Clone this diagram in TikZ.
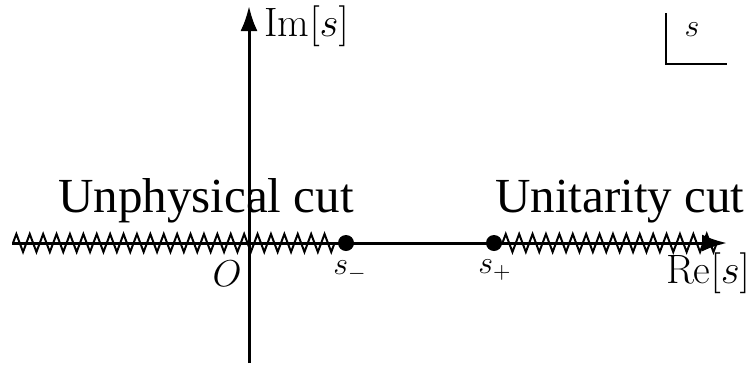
\RequirePackage{fix-cm}
\documentclass[tikz,border=0pt]{standalone}
\usepackage{fontspec}
\newfontfamily\cutfont{Liberation Serif}
\usetikzlibrary{arrows.meta,decorations.pathmorphing}

\begin{document}
\begin{tikzpicture}[x=0.5pt,y=-0.5pt,
axis/.style={line width=1.5pt,-{Latex[length=12.5pt,width=8.5pt]}},
cut/.style={line width=1pt,decorate,decoration={zigzag,segment length=6.7pt,amplitude=4.5pt}},
pole/.style={circle,fill,inner sep=0pt,minimum size=8pt},
axlab/.style={font=\fontsize{20.5}{24}\selectfont},lab/.style={font=\fontsize{18.7}{22}\selectfont},
smalllab/.style={font=\fontsize{16}{20}\selectfont},
big/.style={font=\cutfont\fontsize{24.5}{30}\selectfont}]
\useasboundingbox (0,0) rectangle (754,365);
% axes
\coordinate (xl) at (12,243);\coordinate (xr) at (727,243);
\coordinate (yb) at (249,363);\coordinate (yt) at (249,6);
\draw[axis] (xl) -- (xr);
\draw[axis] (yb) -- (yt);
\node[axlab,anchor=west,inner sep=0pt] (im) at (264,26) {$\mathrm{Im}[s]$};
\node[axlab] (re) at (708,273) {$\mathrm{Re}[s]$};
\node[lab] (o) at (227,274) {$O$};
% branch points
\node[pole] (sm) at (346,243) {};\node[pole] (sp) at (494,243) {};
\node[smalllab] (sml) at (350,271) {$s_-$};\node[smalllab] (spl) at (495,270) {$s_+$};
% cuts
\coordinate (cl) at (13,243);\coordinate (cr) at (722,243);
\draw[cut] (cl) -- (sm.west);
\draw[cut] (sp.east) -- (cr);
\node[big,anchor=base] (uc) at (206,212) {Unphysical cut};
\node[big,anchor=base] (tc) at (620,212) {Unitarity cut};
% s-plane marker
\coordinate (ct) at (666,13);\coordinate (cc) at (666,64);\coordinate (ce) at (727,64);
\draw[line width=1pt] (ct) -- (cc) -- (ce);
\node[smalllab] (sl) at (692,30) {$s$};
\end{tikzpicture}
\end{document}
